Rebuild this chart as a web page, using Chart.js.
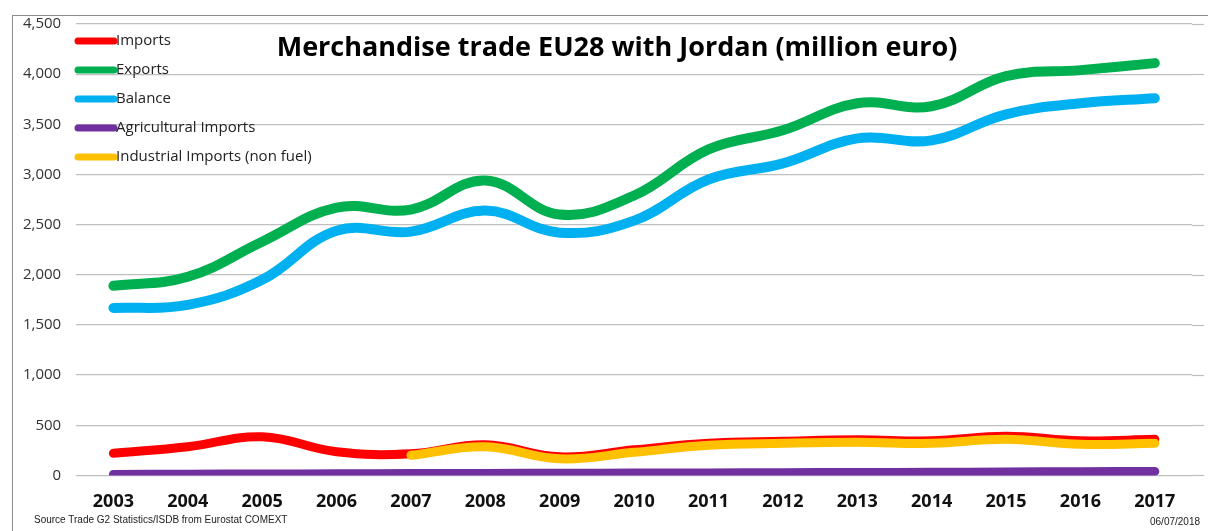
<!DOCTYPE html>
<html>
<head>
<meta charset="utf-8">
<script src="https://cdn.jsdelivr.net/npm/chart.js@4"></script>
<style>
  html, body { margin: 0; padding: 0; background: #fff; }
  #wrap { position: relative; width: 1208px; height: 531px; }
  #frame { position: absolute; left: 12px; top: 15px; right: -2px; bottom: -2px; border: 1px solid #8c8c8c; }
  .note { position: absolute; font-family: "Liberation Sans", Arial, sans-serif; font-size: 10px; color: #222; }
</style>
</head>
<body>
<div id="wrap">
  <div id="frame"></div>
  <canvas id="chartTrade" width="1208" height="531"></canvas>
  <div class="note" style="left:34px; top:514px;">Source Trade G2 Statistics/ISDB from Eurostat COMEXT</div>
  <div class="note" style="left:1150px; top:516px;">06/07/2018</div>
</div>
<script>
// Datos
const years = ['2003', '2004', '2005', '2006', '2007', '2008', '2009', '2010', '2011', '2012', '2013', '2014', '2015', '2016', '2017'];
const imports = [220, 285, 385, 235, 215, 305, 185, 255, 320, 340, 355, 345, 390, 345, 360];
const exportsEU = [1890, 1980, 2330, 2670, 2650, 2940, 2600, 2790, 3250, 3440, 3710, 3680, 3980, 4040, 4110];
const balance = [1670, 1700, 1950, 2440, 2430, 2640, 2420, 2540, 2950, 3110, 3360, 3340, 3600, 3710, 3760];
const agriImports = [10, 12, 14, 16, 18, 20, 21, 23, 25, 27, 29, 31, 34, 37, 40];
const industrialImports = [null, null, null, null, 200, 285, 165, 230, 300, 320, 330, 320, 360, 310, 320];
const yTicks = [0, 500, 1000, 1500, 2000, 2500, 3000, 3500, 4000, 4500];

// Rejilla extendida, leyenda y título dentro del área del gráfico
const overlay = {
  id: 'overlay',
  beforeDatasetsDraw(chart) {
    const c = chart.ctx;
    const y = chart.scales.y;
    const a = chart.chartArea;
    c.save();
    c.strokeStyle = '#bfbfbf';
    c.lineWidth = 1.2;
    yTicks.forEach(v => {
      const py = Math.round(y.getPixelForValue(v)) + 0.5;
      c.beginPath();
      c.moveTo(a.right, py);
      c.lineTo(1204, py);
      c.stroke();
    });
    c.restore();
  },
  afterDraw(chart) {
    const c = chart.ctx;
    c.save();
    c.font = 'bold 27px "Open Sans", sans-serif';
    c.fillStyle = '#000';
    c.textAlign = 'center';
    c.textBaseline = 'middle';
    c.fillText('Merchandise trade EU28 with Jordan (million euro)', 617, 48);

    c.font = '15px "Open Sans", sans-serif';
    c.textAlign = 'left';
    chart.data.datasets.forEach((ds, k) => {
      const y = 41 + k * 29;
      c.strokeStyle = ds.borderColor;
      c.lineWidth = 7;
      c.lineCap = 'round';
      c.beginPath();
      c.moveTo(78, y);
      c.lineTo(114, y);
      c.stroke();
      c.fillStyle = '#222';
      c.fillText(ds.label, 116, y);
    });
    c.restore();
  }
};

const ctx = document.getElementById('chartTrade').getContext('2d');
new Chart(ctx, {
  type: 'line',
  data: {
    labels: years,
    datasets: [
      { label: 'Imports', data: imports, borderColor: '#FF0000', borderWidth: 9, order: 3 },
      { label: 'Exports', data: exportsEU, borderColor: '#00B050', borderWidth: 10, order: 1 },
      { label: 'Balance', data: balance, borderColor: '#00B0F0', borderWidth: 10, order: 2 },
      { label: 'Agricultural Imports', data: agriImports, borderColor: '#7030A0', borderWidth: 9, order: 4 },
      { label: 'Industrial Imports (non fuel)', data: industrialImports, borderColor: '#FFC000', borderWidth: 9, order: 2 }
    ]
  },
  options: {
    responsive: false,
    animation: false,
    layout: { padding: { top: 21, left: 8, right: 16, bottom: 10 } },
    elements: {
      point: { radius: 0 },
      line: { tension: 0.4, borderCapStyle: 'round', borderJoinStyle: 'round', fill: false }
    },
    scales: {
      x: {
        offset: true,
        grid: { display: false },
        border: { display: false },
        ticks: { color: '#111', font: { family: '"Open Sans", sans-serif', size: 18, weight: 'bold' }, padding: 8 }
      },
      y: {
        min: 0,
        max: 4500,
        afterBuildTicks: axis => { axis.ticks = yTicks.map(v => ({ value: v })); },
        grid: { color: '#bfbfbf', lineWidth: 1.2, drawTicks: false },
        border: { display: false },
        ticks: {
          color: '#333',
          font: { family: '"Open Sans", sans-serif', size: 15 },
          padding: 15,
          callback: v => v.toLocaleString('en-US')
        }
      }
    },
    plugins: {
      legend: { display: false },
      tooltip: { enabled: false }
    }
  },
  plugins: [overlay]
});
</script>
</body>
</html>
